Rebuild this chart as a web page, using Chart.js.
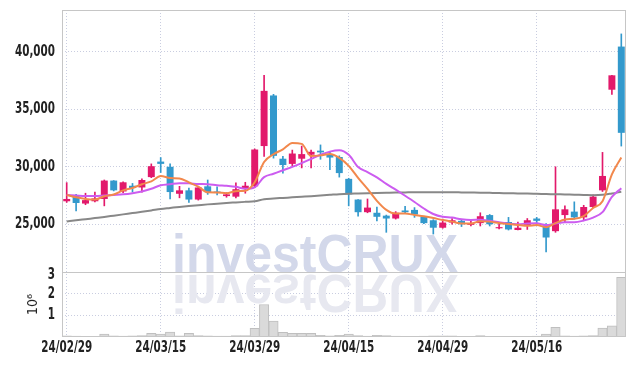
<!DOCTYPE html>
<html>
<head>
<meta charset="utf-8">
<script src="https://cdn.jsdelivr.net/npm/chart.js@4.4.1/dist/chart.umd.min.js"></script>
<style>
  html, body { margin: 0; padding: 0; background: #fff; }
  #wrap { width: 634px; height: 366px; }
</style>
</head>
<body>
<div id="wrap"><canvas id="priceChart"></canvas></div>
<script>
const dates = [
  "24/02/29", "24/03/04", "24/03/05", "24/03/06", "24/03/07", "24/03/08", "24/03/11", "24/03/12", "24/03/13", "24/03/14",
  "24/03/15", "24/03/18", "24/03/19", "24/03/20", "24/03/21", "24/03/22", "24/03/25", "24/03/26", "24/03/27", "24/03/28",
  "24/03/29", "24/04/01", "24/04/02", "24/04/03", "24/04/04", "24/04/05", "24/04/08", "24/04/09", "24/04/11", "24/04/12",
  "24/04/15", "24/04/16", "24/04/17", "24/04/18", "24/04/19", "24/04/22", "24/04/23", "24/04/24", "24/04/25", "24/04/26",
  "24/04/29", "24/04/30", "24/05/02", "24/05/03", "24/05/07", "24/05/08", "24/05/09", "24/05/10", "24/05/13", "24/05/14",
  "24/05/16", "24/05/17", "24/05/20", "24/05/21", "24/05/22", "24/05/23", "24/05/24", "24/05/27", "24/05/28", "24/05/29"
];

const opens = [
  27000, 27450, 26800, 27000, 27200, 28800, 27850, 28350, 28200, 29100,
  30450, 30000, 27650, 27950, 27150, 28300, 27850, 27450, 27400, 28100,
  28300, 31800, 36200, 30700, 30250, 30700, 31050, 31400, 31100, 30850,
  28950, 27150, 26050, 26000, 25750, 25500, 26200, 26250, 25650, 25350,
  24700, 25150, 25300, 24950, 25100, 25800, 24650, 25200, 24500, 24900,
  25500, 24900, 24400, 25800, 26100, 25600, 26500, 27950, 36700, 40450
];
const highs = [
  28620, 27600, 27700, 27800, 28850, 28800, 28700, 28550, 28950, 30250,
  30800, 30250, 28300, 28150, 28250, 28850, 28250, 27750, 28600, 28650,
  31550, 37950, 36300, 30900, 31450, 31800, 31450, 31900, 31250, 30950,
  29000, 27150, 27200, 26500, 25800, 26100, 26550, 26450, 25700, 25400,
  25450, 25500, 25350, 25300, 26000, 25850, 25100, 25600, 25200, 25500,
  25600, 25050, 30000, 26600, 26950, 26650, 27550, 31250, 37950, 41550
];
const lows = [
  26900, 26150, 26700, 26950, 26600, 27900, 27750, 27800, 27800, 29050,
  29500, 27200, 27300, 26900, 27100, 27600, 27550, 27350, 27300, 27700,
  28200, 30900, 30750, 29450, 30050, 29900, 29900, 30650, 29750, 29100,
  26600, 25700, 26000, 25300, 24300, 25450, 25950, 25600, 25050, 24150,
  24650, 25000, 24800, 24850, 24850, 24850, 24600, 24500, 24500, 24550,
  25150, 22600, 24300, 25200, 25450, 25400, 26450, 27850, 36300, 31800
];
const closes = [
  27200, 26850, 27100, 27250, 28800, 27950, 28650, 28150, 28850, 30050,
  30250, 27800, 27950, 27150, 28200, 27800, 27750, 27600, 28050, 28350,
  31500, 36600, 30950, 30150, 31150, 31100, 31300, 31250, 30800, 29450,
  27600, 26050, 26450, 25650, 25500, 26000, 26050, 25850, 25100, 24700,
  25150, 25350, 25000, 25100, 25700, 25000, 24750, 24550, 24700, 25350,
  25300, 23850, 26300, 26300, 25600, 26500, 27400, 29200, 37950, 32950
];

const ma5 = [
  27550, 27350, 27200, 27150, 27440, 27590, 27950, 28160, 28480, 28730,
  29190, 29020, 28980, 28640, 28270, 27780, 27770, 27700, 27880, 27910,
  28650, 30420, 31090, 31510, 32070, 31990, 30930, 30990, 31120, 30780,
  30080, 29030, 28070, 27040, 26250, 25930, 25930, 25810, 25700, 25540,
  25370, 25230, 25060, 25060, 25260, 25230, 25110, 25020, 24940, 24870,
  24930, 24750, 25100, 25420, 25470, 25710, 26420, 27000, 29330, 30800
];
const ma10 = [
  27550, 27500, 27450, 27450, 27500, 27550, 27600, 27700, 27850, 28085,
  28390, 28485, 28570, 28560, 28500, 28485, 28395, 28340, 28260, 28090,
  28215, 29095, 29395, 29695, 29990, 30320, 30675, 31040, 31315, 31425,
  31035, 29980, 29530, 29080, 28515, 28005, 27480, 26940, 26370, 25895,
  25650, 25580, 25435, 25380, 25400, 25300, 25170, 25040, 25000, 25065,
  25080, 24930, 25060, 25180, 25170, 25320, 25585, 26050, 27375, 28135
];
const ma60 = [
  25250, 25340, 25440, 25540, 25640, 25750, 25860, 25970, 26080, 26200,
  26330, 26420, 26510, 26590, 26660, 26730, 26790, 26850, 26900, 26950,
  27000, 27180, 27240, 27290, 27340, 27390, 27440, 27500, 27560, 27620,
  27660, 27680, 27700, 27720, 27740, 27760, 27770, 27780, 27780, 27780,
  27780, 27780, 27770, 27760, 27750, 27730, 27710, 27700, 27680, 27670,
  27650, 27630, 27610, 27590, 27570, 27550, 27530, 27560, 27680, 27820
];

const volumes = [
  50000, 40000, 30000, 30000, 130000, 50000, 40000, 50000, 60000, 170000,
  130000, 230000, 50000, 170000, 60000, 50000, 40000, 40000, 70000, 60000,
  400000, 1500000, 730000, 220000, 170000, 170000, 170000, 80000, 50000, 80000,
  140000, 60000, 40000, 80000, 60000, 40000, 30000, 30000, 40000, 50000,
  50000, 50000, 30000, 30000, 60000, 30000, 20000, 30000, 20000, 30000,
  40000, 140000, 450000, 50000, 40000, 50000, 70000, 410000, 520000, 2750000
];

document.addEventListener("DOMContentLoaded", () => {
  const ctx = document.getElementById("priceChart");

  const UP = "#e2196b";
  const DOWN = "#3399cc";
  const GRID = "#c9cde0";
  const TEXT = "#222222";
  const LABEL_FONT = 'bold 16px "DejaVu Sans Condensed", "DejaVu Sans", sans-serif';

  const candleColors = closes.map((c, i) => (c >= opens[i] ? UP : DOWN));
  const bodies = opens.map((o, i) => [o, closes[i]]);
  const wicks = lows.map((l, i) => [l, highs[i]]);

  // narrow tick text, squeezed horizontally
  function drawNarrow(c, text, x, y, align) {
    c.save();
    c.translate(x, y);
    c.scale(0.72, 1);
    c.textAlign = align;
    c.fillText(text, 0, 0);
    c.restore();
  }

  const framePlugin = {
    id: "frame",
    beforeDatasetsDraw(chart) {
      const c = chart.ctx;
      const base = chart.scales.y.bottom;
      c.save();
      c.font = 'bold 54px "Liberation Sans", Arial, sans-serif';
      const w = c.measureText("investCRUX").width;
      c.translate(172, base);
      c.scale(286 / w, 1);
      c.fillStyle = "#d3d8ea";
      c.fillText("investCRUX", 0, 0);
      c.scale(1, -1);
      c.fillStyle = "#e7e8f0";
      c.fillText("investCRUX", 0, -3);
      c.restore();
    },
    afterDraw(chart) {
      const c = chart.ctx;
      const { left, right, top, bottom } = chart.chartArea;
      const sep = chart.scales.y.bottom;
      c.save();
      c.strokeStyle = "#c6c6c6";
      c.lineWidth = 1;
      c.strokeRect(left + 0.5, top + 0.5, right - left - 1, bottom - top - 1);
      c.beginPath();
      c.moveTo(left, Math.round(sep) + 0.5);
      c.lineTo(right, Math.round(sep) + 0.5);
      c.stroke();

      c.fillStyle = TEXT;
      c.font = LABEL_FONT;
      c.textBaseline = "middle";
      const sy = chart.scales.y;
      sy.ticks.forEach(t => drawNarrow(c, t.value.toLocaleString("en-US"), sy.right - 7, sy.getPixelForValue(t.value), "right"));
      const sv = chart.scales.yv;
      sv.ticks.forEach(t => drawNarrow(c, String(t.value / 1000000), sv.right - 7, Math.max(sv.getPixelForValue(t.value), sv.top + 3), "right"));
      const sx = chart.scales.x;
      sx.ticks.forEach(t => drawNarrow(c, dates[t.value], sx.getPixelForValue(t.value), sx.top + 11, "center"));
      c.restore();
    }
  };

  const fitLeft = axis => {
    axis.width = 62;
    axis.paddingTop = 0;
    axis.paddingBottom = 0;
  };

  new Chart(ctx, {
    type: "bar",
    data: {
      labels: dates,
      datasets: [
        { type: "line", label: "MA5", data: ma5, borderColor: "#f2884c", borderWidth: 2, pointRadius: 0, cubicInterpolationMode: "monotone", yAxisID: "y", order: 0 },
        { type: "line", label: "MA10", data: ma10, borderColor: "#cc5cf0", borderWidth: 2, pointRadius: 0, cubicInterpolationMode: "monotone", yAxisID: "y", order: 0 },
        { type: "line", label: "MA60", data: ma60, borderColor: "#888888", borderWidth: 2, pointRadius: 0, cubicInterpolationMode: "monotone", yAxisID: "y", order: 0 },
        { label: "body", data: bodies, backgroundColor: candleColors, barPercentage: 0.74, categoryPercentage: 1, grouped: false, minBarLength: 1, yAxisID: "y", order: 1 },
        { label: "wick", data: wicks, backgroundColor: candleColors, barThickness: 1, grouped: false, yAxisID: "y", order: 2 },
        { label: "volume", data: volumes, backgroundColor: "#dadada", borderColor: "#bfbfbf", borderWidth: 1, barPercentage: 1, categoryPercentage: 1, grouped: false, yAxisID: "yv", order: 3 }
      ]
    },
    options: {
      responsive: true,
      maintainAspectRatio: false,
      animation: false,
      layout: { padding: { top: 10, right: 8, left: 0, bottom: 0 } },
      plugins: { legend: { display: false }, tooltip: { enabled: false } },
      scales: {
        x: {
          offset: true,
          grid: { offset: false, color: GRID, drawTicks: false },
          border: { display: false, dash: [1, 2] },
          ticks: { display: false, autoSkip: false, maxRotation: 0 },
          afterBuildTicks: axis => { axis.ticks = axis.ticks.filter(t => t.value % 10 === 0); },
          afterFit: axis => { axis.height = 29; axis.paddingLeft = 0; axis.paddingRight = 0; }
        },
        yv: {
          position: "left",
          stack: "panes",
          stackWeight: 65,
          min: 0,
          max: 3000000,
          grid: { color: GRID, drawTicks: false },
          border: { display: false, dash: [1, 2] },
          ticks: { display: false, stepSize: 1000000, autoSkip: false },
          title: { display: true, text: "10\u2076", color: TEXT, font: { family: '"DejaVu Sans Condensed", "DejaVu Sans", sans-serif', size: 14 }, padding: { top: 25, bottom: 0 } },
          afterBuildTicks: axis => { axis.ticks = axis.ticks.filter(t => t.value > 0); },
          afterFit: fitLeft
        },
        y: {
          position: "left",
          stack: "panes",
          stackWeight: 262,
          min: 20850,
          max: 43630,
          grid: { color: GRID, drawTicks: false },
          border: { display: false, dash: [1, 2] },
          ticks: { display: false, autoSkip: false },
          afterBuildTicks: axis => { axis.ticks = axis.ticks.filter(t => t.value % 5000 === 0); },
          afterFit: fitLeft
        }
      }
    },
    plugins: [framePlugin]
  });
});
</script>
</body>
</html>
